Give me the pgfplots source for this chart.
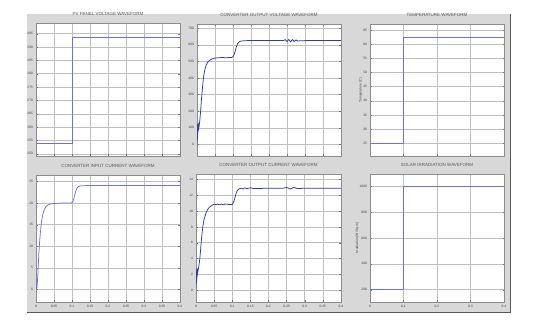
\documentclass[border=0pt]{standalone}
\usepackage{fontspec}
\setmainfont{Liberation Sans}
\usepackage{pgfplots}
\pgfplotsset{compat=1.18}
\definecolor{figgray}{RGB}{216,216,216}
\definecolor{lineA}{RGB}{110,110,235}
\definecolor{lineB}{RGB}{55,55,165}
\definecolor{lineC}{RGB}{115,115,215}
\pgfplotsset{
  panel/.style={
    scale only axis, anchor=south west,
    axis background/.style={fill=white},
    xmin=0, xmax=0.4,
    grid=major, major grid style={black!25, line width=0.5pt},
    axis line style={black!45, line width=0.5pt},
    tick style={black!55, line width=0.3pt}, tick align=inside, major tick length=1.5pt,
    ticklabel style={font=\fontsize{3.3}{3.6}\selectfont, text=black!75},
    xticklabel style={yshift=0.5pt},
    yticklabel style={xshift=0.5pt},
    label style={font=\fontsize{3.4}{3.8}\selectfont, text=black!75},
    title style={font=\fontsize{4.5}{5}\selectfont, text=black!65, inner sep=1.5pt},
    /pgf/number format/assume math mode=true,
    /pgf/number format/1000 sep={},
    scaled ticks=false,
    every axis plot/.append style={line width=0.75pt, no marks},
  },
  fine/.style={xtick={0,0.05,0.1,0.15,0.2,0.25,0.3,0.35,0.4}},
  coarse/.style={xtick={0,0.1,0.2,0.3,0.4}},
}
\begin{document}
\begin{tikzpicture}[x=1pt,y=1pt]
\useasboundingbox (0,0) rectangle (549,332);
\fill[white] (0,0) rectangle (549,332);
\fill[figgray] (27,19) rectangle (510,318);
\draw[black!65, line width=1pt] (27,19.5) -- (510.5,19.5) -- (510.5,318);

% Panel 1
\begin{axis}[panel, fine, at={(36pt,176pt)}, width=144pt, height=133pt,
  xticklabels={}, ymin=249.2, ymax=299, ytick={250,255,...,295},
  title={PV PANEL VOLTAGE WAVEFORM}]
\addplot[lineA] coordinates {(0,253.75)(0.1,253.75)(0.1,293.5)(0.4,293.5)};
\end{axis}

% Panel 2
\begin{axis}[panel, fine, at={(197pt,176pt)}, width=144pt, height=132pt,
  xticklabels={}, ymin=-70, ymax=725, ytick={0,100,...,700},
  title={CONVERTER OUTPUT VOLTAGE WAVEFORM}]
\addplot[lineB] coordinates {(0,0)(0.0005,40)(0.001,110)(0.0013,30)(0.0017,120)(0.002,60)(0.0025,125)(0.003,75)(0.0035,130)(0.004,90)(0.005,100)(0.006,110)(0.008,150)(0.010,200)(0.012,260)(0.014,310)(0.016,360)(0.018,400)(0.020,430)(0.023,460)(0.026,480)(0.030,495)(0.035,507)(0.042,515)(0.05,520)(0.06,522)(0.07,523)(0.08,522)(0.09,523)(0.097,524)(0.100,528)(0.103,540)(0.106,560)(0.109,585)(0.112,603)(0.115,614)(0.12,621)(0.13,624)(0.14,625)(0.2,625)(0.24,625)(0.245,631)(0.25,619)(0.255,632)(0.26,618)(0.265,631)(0.27,620)(0.275,629)(0.28,623)(0.3,625)(0.4,625)};
\end{axis}

% Panel 3
\begin{axis}[panel, coarse, at={(370pt,176pt)}, width=134pt, height=132pt,
  xticklabels={}, ymin=20.5, ymax=67.1, ytick={25,30,...,65},
  ylabel={Temperature (C)}, ylabel style={yshift=-6pt},
  title={TEMPERATURE WAVEFORM}]
\addplot[lineA] coordinates {(0,25)(0.1,25)(0.1,62.5)(0.4,62.5)};
\end{axis}

% Panel 4
\begin{axis}[panel, fine, at={(36pt,30pt)}, width=144pt, height=127pt,
  xticklabels={0,0.05,0.1,0.15,0.2,0.25,0.3,0.35,0.4},
  ymin=-2.9, ymax=26.5, ytick={0,5,...,25},
  title={CONVERTER INPUT CURRENT WAVEFORM}]
\addplot[lineC] coordinates {(0,0.2)(0.001,0.8)(0.0015,0.1)(0.002,1.9)(0.0025,0.4)(0.003,2.6)(0.0035,1.0)(0.004,2.2)(0.005,3)(0.006,5)(0.008,8.5)(0.010,11)(0.012,13)(0.014,14.8)(0.016,16)(0.018,17)(0.020,17.7)(0.023,18.5)(0.027,19.1)(0.032,19.5)(0.04,19.8)(0.05,19.9)(0.07,20)(0.1,20.05)(0.102,20.3)(0.105,21)(0.108,22)(0.111,22.9)(0.114,23.5)(0.118,23.85)(0.125,24)(0.14,24.05)(0.4,24.05)};
\end{axis}

% Panel 5
\begin{axis}[panel, fine, at={(196pt,30pt)}, width=145pt, height=128pt,
  xticklabels={0,0.05,0.1,0.15,0.2,0.25,0.3,0.35,0.4},
  ymin=-1.5, ymax=14.7, ytick={0,2,...,14},
  title={CONVERTER OUTPUT CURRENT WAVEFORM}]
\addplot[lineB] coordinates {(0,0.3)(0.0005,1.5)(0.001,0.8)(0.0015,2.6)(0.002,1.2)(0.0025,2.8)(0.003,1.6)(0.0035,2.7)(0.004,2.0)(0.005,2.3)(0.007,2.8)(0.009,3.4)(0.011,4.2)(0.013,5.3)(0.015,6.4)(0.017,7.3)(0.019,8.1)(0.022,8.9)(0.025,9.4)(0.028,9.8)(0.032,10.2)(0.037,10.5)(0.045,10.75)(0.05,10.9)(0.055,10.8)(0.06,10.9)(0.065,10.8)(0.07,10.9)(0.075,10.8)(0.08,10.9)(0.09,10.85)(0.1,10.85)(0.102,11.0)(0.105,11.3)(0.108,11.8)(0.111,12.3)(0.114,12.6)(0.118,12.8)(0.125,12.9)(0.13,12.8)(0.135,12.95)(0.14,12.85)(0.15,12.95)(0.16,12.85)(0.2,12.9)(0.24,12.9)(0.25,13.0)(0.26,12.8)(0.27,13.0)(0.28,12.85)(0.3,12.9)(0.4,12.9)};
\end{axis}

% Panel 6
\begin{axis}[panel, coarse, at={(370pt,30pt)}, width=134pt, height=128pt,
  xticklabels={0,0.1,0.2,0.3,0.4},
  ymin=105, ymax=1093, ytick={200,400,...,1000},
  ylabel={Irradiation (W/Sq.m)}, ylabel style={yshift=-6pt},
  title={SOLAR IRRADIATION WAVEFORM}]
\addplot[lineA] coordinates {(0,200)(0.1,200)(0.1,1000)(0.4,1000)};
\end{axis}
\end{tikzpicture}
\end{document}
